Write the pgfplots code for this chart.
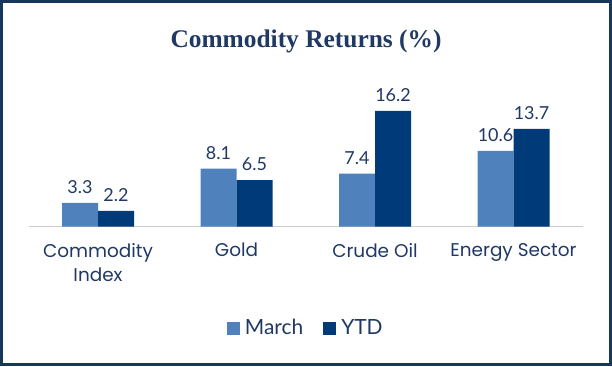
\documentclass[border=0pt]{standalone}
\usepackage{pgfplots}
\pgfplotsset{compat=1.18}
\usepackage{fontspec}
\setmainfont{Lato}
\newfontfamily\titlefont{Liberation Serif}
\newfontfamily\catfont{Poppins}
\definecolor{marchc}{RGB}{79,129,189}
\definecolor{ytdc}{RGB}{0,58,120}
\definecolor{navy}{RGB}{31,56,100}
\definecolor{framec}{RGB}{23,55,94}
\begin{document}
\begin{tikzpicture}[x=1bp,y=1bp]
\useasboundingbox (0,0) rectangle (612,366);
\draw[framec,line width=3bp] (1.5,1.5) rectangle (610.5,364.5);
\node[font=\titlefont\bfseries\fontsize{25.5}{30}\selectfont,text=navy] at (306,325) {Commodity Returns (\%)};
\begin{axis}[
  at={(28.75bp,139.5bp)}, anchor=south west,
  scale only axis, width=554bp, height=142.6bp,
  ybar, bar width=36bp, ybar=0pt,
  xmin=-0.5, xmax=3.5, ymin=0, ymax=20,
  axis y line=none,
  axis x line*=bottom,
  x axis line style={draw=black!20, line width=1bp, -},
  xtick=data, major tick length=0pt,
  xticklabels={Commodity\\Index, Gold, Crude Oil, Energy Sector},
  xticklabel style={align=center, font=\catfont\fontsize{18.5}{24.5}\selectfont, text=navy, yshift=-13bp},
  nodes near coords,
  nodes near coords style={font=\fontsize{18}{22}\selectfont, text=navy, yshift=6bp, /pgf/number format/.cd, fixed, fixed zerofill, precision=1, assume math mode=true},
  legend style={at={(0.5,-0.712)}, anchor=center, draw=none, legend columns=2, font=\fontsize{21}{24}\selectfont, text=navy, /tikz/every odd column/.append style={column sep=3bp}, /tikz/every even column/.append style={column sep=18bp}},
  legend image code/.code={\fill[#1] (0bp,-7bp) rectangle (13bp,6bp);},
  clip=false,
]
\addplot[fill=marchc, draw=none] coordinates {(0,3.3) (1,8.1) (2,7.4) (3,10.6)};
\addplot[fill=ytdc, draw=none] coordinates {(0,2.2) (1,6.5) (2,16.2) (3,13.7)};
\legend{March, YTD}
\end{axis}
\end{tikzpicture}
\end{document}
